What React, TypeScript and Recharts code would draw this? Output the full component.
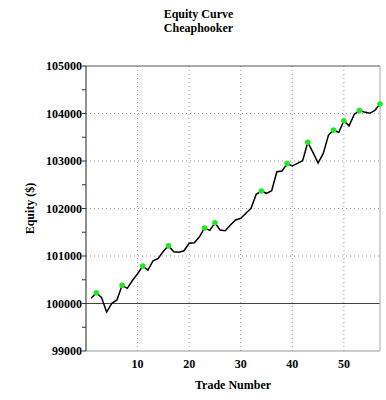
import { LineChart, Line, XAxis, YAxis, ReferenceLine, Label } from 'recharts'

// equity after each trade (trade 1..57)
const equity = [
  100110, 100227, 100130, 99820, 100004, 100074, 100383, 100320, 100484, 100627,
  100790, 100705, 100900, 100950, 101100, 101217, 101090, 101080, 101110, 101267,
  101280, 101406, 101590, 101540, 101700, 101547, 101533, 101653, 101758, 101793,
  101899, 102004, 102300, 102368, 102320, 102375, 102775, 102790, 102945, 102895,
  102950, 103006, 103395, 103180, 102955, 103160, 103540, 103652, 103600, 103848,
  103740, 103980, 104060, 104030, 104004, 104065, 104200,
]

// trades marked with a green dot
const peakTrades = [2, 7, 11, 16, 23, 25, 34, 39, 43, 48, 50, 53, 57]

const xTicks = [10, 20, 30, 40, 50]
const yTicks = [
  99000, 99500, 100000, 100500, 101000, 101500, 102000, 102500,
  103000, 103500, 104000, 104500, 105000,
]
const yGrid = [101000, 102000, 103000, 104000]

const data = equity.map((v, i) => ({ trade: i + 1, equity: v }))

const font = '"Liberation Serif", "Times New Roman", serif'
const tickStyle = { fontFamily: font, fontSize: 12, fontWeight: 'bold', fill: '#000' }

const PeakDot = (props: any) => {
  const { cx, cy, payload, index } = props
  if (!peakTrades.includes(payload.trade)) return <g key={index} />
  return <circle key={index} cx={cx} cy={cy} r={2.8} fill="#1ee81e" stroke="none" />
}

export default function App() {
  return (
    <div style={{ position: 'absolute', left: 0, top: 0, width: 386, height: 400, background: '#fff' }}>
      <div
        style={{
          position: 'absolute', left: 0, top: 7, width: 397, textAlign: 'center',
          fontFamily: font, fontSize: 12, fontWeight: 'bold', lineHeight: '14px', color: '#000',
        }}
      >
        Equity Curve<br />Cheaphooker
      </div>
      <LineChart
        width={386}
        height={400}
        data={data}
        margin={{ top: 66, right: 6, bottom: 0, left: 0 }}
      >
        <XAxis
          type="number"
          dataKey="trade"
          domain={[0, 57]}
          ticks={xTicks}
          tickLine={false}
          axisLine={{ stroke: '#9a9a9a' }}
          tick={tickStyle}
          height={49}
        >
          <Label
            value="Trade Number"
            position="insideBottom"
            offset={11}
            style={{ fontFamily: font, fontSize: 12, fontWeight: 'bold', fill: '#000' }}
          />
        </XAxis>
        <YAxis
          type="number"
          domain={[99000, 105000]}
          ticks={yTicks}
          interval={0}
          width={86}
          tickSize={4}
          tickMargin={0}
          tickLine={{ stroke: '#333' }}
          axisLine={{ stroke: '#222' }}
          tick={tickStyle}
          tickFormatter={(v: number) => (v % 1000 === 0 ? String(v) : '')}
        >
          <Label
            value="Equity ($)"
            angle={-90}
            position="insideLeft"
            offset={30}
            style={{ fontFamily: font, fontSize: 12, fontWeight: 'bold', fill: '#000', textAnchor: 'middle' }}
          />
        </YAxis>
        {yGrid.map(v => (
          <ReferenceLine key={'h' + v} y={v} stroke="#999" strokeDasharray="1 3" />
        ))}
        {xTicks.map(v => (
          <ReferenceLine key={'v' + v} x={v} stroke="#999" strokeDasharray="1 3" />
        ))}
        <ReferenceLine y={100000} stroke="#444" />
        <ReferenceLine y={105000} stroke="#555" />
        <ReferenceLine x={57} stroke="#aaa" />
        <Line
          type="linear"
          dataKey="equity"
          stroke="#000"
          strokeWidth={1.5}
          dot={PeakDot}
          activeDot={false}
          isAnimationActive={false}
        />
      </LineChart>
    </div>
  )
}
